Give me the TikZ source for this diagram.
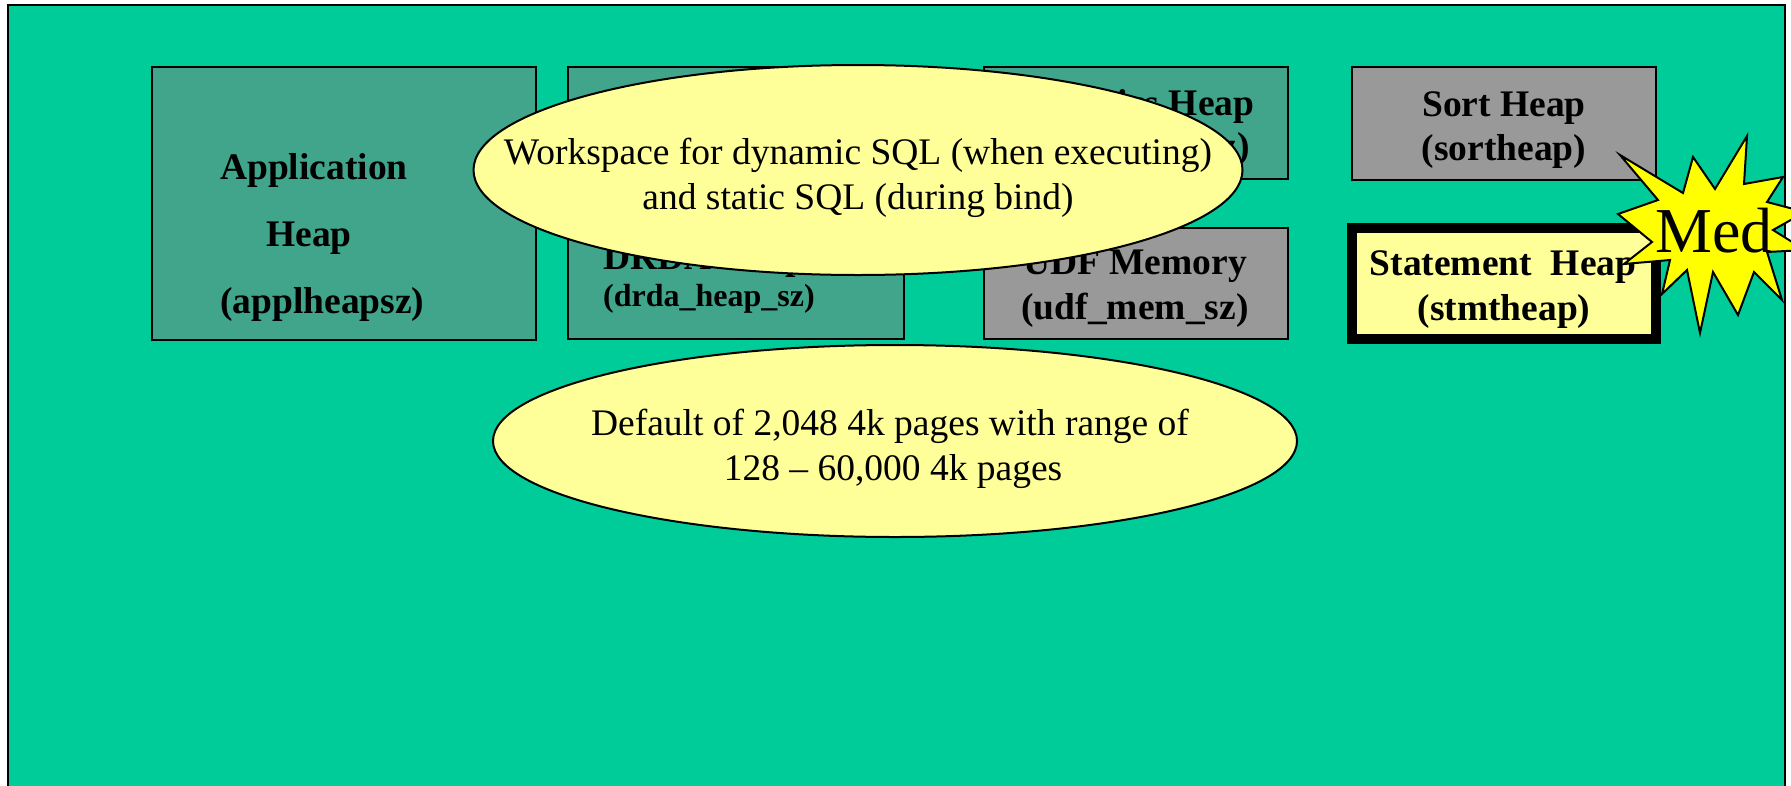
\documentclass[tikz,border=0pt]{standalone}
\usepackage{fontspec}
\setmainfont{Liberation Serif}
\usetikzlibrary{shapes.geometric}
\definecolor{bggreen}{HTML}{00CC99}
\definecolor{heapteal}{HTML}{40A58B}
\definecolor{heapgray}{HTML}{999999}
\definecolor{paleyellow}{HTML}{FFFF99}
\definecolor{burst}{HTML}{FFFF00}
\tikzset{
  heapbox/.style={draw=black, line width=2pt},
  bigtxt/.style={font=\bfseries\fontsize{37.5pt}{44pt}\selectfont, inner sep=0pt, anchor=base},
  smalltxt/.style={font=\bfseries\fontsize{32pt}{38pt}\selectfont, inner sep=0pt, anchor=base west},
  notetxt/.style={font=\fontsize{37.5pt}{44pt}\selectfont, inner sep=0pt, anchor=base},
  note/.style={ellipse, draw=black, line width=2pt, fill=paleyellow, inner sep=0pt}
}
\begin{document}
\begin{tikzpicture}[x=1pt, y=-1pt]
  \clip (0,0) rectangle (1791,785);
  \fill[white] (0,0) rectangle (1791,785);

  % slide background
  \draw[fill=bggreen, line width=2pt] (8,5) rectangle (1785,800);

  % memory areas
  \draw[heapbox, fill=heapteal] (152,67) rectangle (536,340);
  \draw[heapbox, fill=heapteal] (568,67) rectangle (904,339);
  \draw[heapbox, fill=heapteal] (984,67) rectangle (1288,179);
  \draw[heapbox, fill=heapgray] (984,228) rectangle (1288,339);
  \draw[heapbox, fill=heapgray] (1352,67) rectangle (1656,180);
  \draw[line width=10pt, fill=paleyellow] (1352,228) rectangle (1656,339);

  % labels of the memory areas
  \node[bigtxt, anchor=base west] (appA) at (220,179) {Application};
  \node[bigtxt, anchor=base west] (appB) at (266,246) {Heap};
  \node[bigtxt, anchor=base west] (appC) at (220,313) {(applheapsz)};

  \node[bigtxt, anchor=base west] (drdaA) at (603,269) {DRDA Heap};
  \node[smalltxt] (drdaB) at (603,306) {(drda\_heap\_sz)};

  \node[bigtxt] (statA) at (1135,115) {Statistics Heap};
  \node[bigtxt] (statB) at (1135,158) {(stat\_heap\_sz)};

  \node[bigtxt] (udfA) at (1135,274) {UDF Memory};
  \node[bigtxt] (udfB) at (1135,319) {(udf\_mem\_sz)};

  \node[bigtxt] (sortA) at (1504,116) {Sort Heap};
  \node[bigtxt] (sortB) at (1504,160) {(sortheap)};

  \node[bigtxt] (stmtA) at (1503,275) {Statement\ \ Heap};
  \node[bigtxt] (stmtB) at (1504,320) {(stmtheap)};

  % call-out notes
  \node[note, minimum width=769pt, minimum height=210pt] (work) at (858,170) {};
  \node[notetxt] (workA) at (858,164) {Workspace for dynamic SQL (when executing)};
  \node[notetxt] (workB) at (858,209) {and static SQL (during bind)};

  \node[note, minimum width=804pt, minimum height=192pt] (dflt) at (895,441) {};
  \node[notetxt] (dfltA) at (890,435) {Default of 2,048 4k pages with range of};
  \node[notetxt] (dfltB) at (893,480) {128 -- 60,000 4k pages};

  % burst marker
  \draw[fill=burst, line width=2pt, line join=miter]
    (1620,155) -- (1683,193) -- (1693,157) -- (1715,189) -- (1747,136)
    -- (1744,184) -- (1783,177) -- (1767,202) -- (1805,212) -- (1773,230)
    -- (1805,250) -- (1767,252) -- (1782,300) -- (1754,272) -- (1738,315)
    -- (1713,272) -- (1700,333) -- (1687,270) -- (1662,294) -- (1670,260)
    -- (1624,264) -- (1652,242) -- (1618,214) -- (1658,200) -- cycle;
  \node[font=\fontsize{64pt}{70pt}\selectfont, inner sep=0pt, anchor=base] (med) at (1714,252) {Med};
\end{tikzpicture}
\end{document}
